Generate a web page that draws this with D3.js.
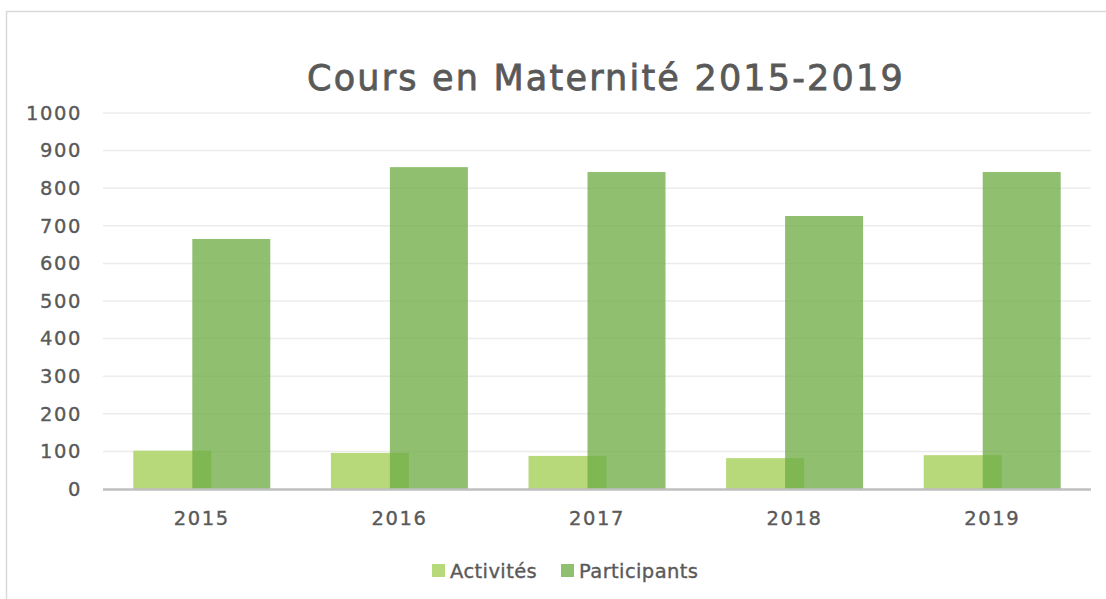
<!DOCTYPE html>
<html>
<head>
<meta charset="utf-8">
<script src="https://cdn.jsdelivr.net/npm/d3@7"></script>
<style>
	body { margin: 0; background: #fff; }
	text { font-family: "DejaVu Sans", sans-serif; fill: #595959; }
</style>
</head>
<body>
<div id="chart"></div>
<script>
var years = ["2015", "2016", "2017", "2018", "2019"];
var activites = [102, 96, 88, 82, 90];
var participants = [665, 856, 843, 726, 843];
var yTicks = [0, 100, 200, 300, 400, 500, 600, 700, 800, 900, 1000];
var seriesNames = ["Activités", "Participants"];
var title = "Cours en Maternité 2015-2019";

function init() {
	var w = 1106;
	var h = 599;

	var svg = d3.select("#chart")
		.append("svg")
		.attr("width", w)
		.attr("height", h);

	// chart area border (only left and top are in frame)
	svg.append("path")
		.attr("d", "M6.5," + h + "V11.5H" + w)
		.attr("fill", "none")
		.attr("stroke", "#d9d9d9")
		.attr("stroke-width", 1.5);

	var x = d3.scaleBand()
		.domain(years)
		.range([103, 1091]);

	var y = d3.scaleLinear()
		.domain([0, 1000])
		.range([489, 113]);

	// gridlines
	svg.append("g")
		.selectAll("line")
		.data(yTicks.slice(1))
		.join("line")
			.attr("x1", 103)
			.attr("x2", 1091)
			.attr("y1", d => y(d))
			.attr("y2", d => y(d))
			.attr("stroke", "#ececec")
			.attr("stroke-width", 1.5);

	var barW = 78;
	var offset = 29.5;

	svg.append("g")
		.selectAll("rect")
		.data(activites)
		.join("rect")
			.attr("x", (d, i) => x(years[i]) + x.bandwidth() / 2 - offset - barW / 2)
			.attr("y", d => y(d))
			.attr("width", barW)
			.attr("height", d => y(0) - y(d))
			.attr("fill", "#b7d97a");

	svg.append("g")
		.selectAll("rect")
		.data(participants)
		.join("rect")
			.attr("x", (d, i) => x(years[i]) + x.bandwidth() / 2 + offset - barW / 2)
			.attr("y", d => y(d))
			.attr("width", barW)
			.attr("height", d => y(0) - y(d))
			.attr("fill", "rgb(112,173,71)")
			.attr("fill-opacity", 0.78);

	// baseline
	svg.append("line")
		.attr("x1", 103)
		.attr("x2", 1091)
		.attr("y1", y(0) + 0.5)
		.attr("y2", y(0) + 0.5)
		.attr("stroke", "#bfbfbf")
		.attr("stroke-width", 2.5);

	var labelStyle = function(sel) {
		sel.attr("font-size", 19.5)
			.attr("letter-spacing", 1.6)
			.attr("fill", "#595959")
			.attr("stroke", "#595959")
			.attr("stroke-width", 0.35)
			.style("font-family", "'DejaVu Sans', sans-serif");
	};

	// y axis
	svg.append("g")
		.attr("transform", "translate(82,0)")
		.call(d3.axisLeft(y).tickValues(yTicks).tickFormat(d3.format("d")).tickSize(0).tickPadding(0))
		.call(g => g.select(".domain").remove())
		.call(g => g.selectAll("text").call(labelStyle));

	// x axis
	svg.append("g")
		.attr("transform", "translate(0,511)")
		.call(d3.axisBottom(x).tickSize(0).tickPadding(0))
		.call(g => g.select(".domain").remove())
		.call(g => g.selectAll("text").call(labelStyle));

	// title, spread to the width it has in the original
	var t = svg.append("text")
		.attr("x", 606)
		.attr("y", 90)
		.attr("text-anchor", "middle")
		.attr("font-size", 35)
		.attr("stroke", "#595959")
		.attr("stroke-width", 0.8)
		.text(title);
	var tw = t.node().getComputedTextLength();
	t.attr("letter-spacing", (598 - tw) / title.length);

	// legend
	var legendColors = ["#b7d97a", "rgba(112,173,71,0.78)"];
	var legendX = [432, 561];
	var lg = svg.append("g")
		.selectAll("g")
		.data(seriesNames)
		.join("g")
			.attr("transform", (d, i) => `translate(${legendX[i]},564)`);
	lg.append("rect")
		.attr("width", 13)
		.attr("height", 13)
		.attr("fill", (d, i) => legendColors[i]);
	lg.append("text")
		.attr("x", 18)
		.attr("y", 14)
		.attr("font-size", 19.5)
		.attr("letter-spacing", 0.4)
		.attr("stroke", "#595959")
		.attr("stroke-width", 0.35)
		.text(d => d);
}

window.onload = init;
</script>
</body>
</html>
